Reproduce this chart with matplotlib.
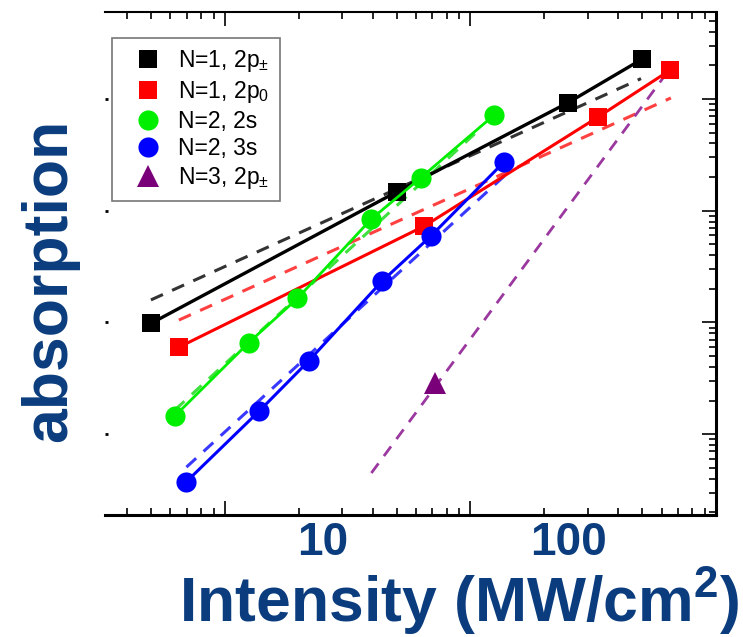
import matplotlib
matplotlib.use('Agg')
import matplotlib.pyplot as plt

plt.rcParams['font.family'] = ['Liberation Sans', 'DejaVu Sans']
plt.rcParams['mathtext.fontset'] = 'custom'
plt.rcParams['mathtext.rm'] = 'Liberation Sans'
plt.rcParams['mathtext.bf'] = 'Liberation Sans:bold'
plt.rcParams['mathtext.default'] = 'regular'

# measured absorption vs. intensity (MW/cm^2), arbitrary units
int_n1_2ppm = [2, 20, 100, 200]
abs_n1_2ppm = [0.0098, 0.147, 0.927, 2.27]
int_n1_2p0 = [2.6, 26, 132, 261]
abs_n1_2p0 = [0.0060, 0.073, 0.686, 1.82]
int_n2_2s = [2.5, 5.0, 7.9, 15.8, 25.1, 50]
abs_n2_2s = [0.00145, 0.00658, 0.0164, 0.0843, 0.197, 0.719]
int_n2_3s = [2.77, 5.52, 8.77, 17.5, 27.7, 55]
abs_n2_3s = [0.00037, 0.00161, 0.00451, 0.0235, 0.0597, 0.275]
int_n3_2ppm = [28.8]
abs_n3_2ppm = [0.00287]

# power-law fits (dashed)
fit_n1_2ppm_x = [2, 198]
fit_n1_2ppm_y = [0.0159, 1.52]
fit_n1_2p0_x = [2.6, 262]
fit_n1_2p0_y = [0.0105, 1.02]
fit_n2_2s_x = [2.5, 42]
fit_n2_2s_y = [0.00164, 0.496]
fit_n2_3s_x = [2.79, 57]
fit_n2_3s_y = [0.000507, 0.22]
fit_n3_2ppm_x = [15.8, 245]
fit_n3_2ppm_y = [0.000449, 1.57]

labels = ['N=1, 2p$_{\\pm}$', 'N=1, 2p$_0$', 'N=2, 2s', 'N=2, 3s', 'N=3, 2p$_{\\pm}$']

label_color = '#0b3d7e'

fig = plt.figure(figsize=(7.43, 6.37), dpi=100)
ax = fig.add_axes([0.1413, 0.1915, 0.8224, 0.7897])
ax.set_xscale('log')
ax.set_yscale('log')

dash = (4.3, 3.3)
ax.plot(fit_n1_2ppm_x, fit_n1_2ppm_y, color='#333333', lw=2.2, dashes=dash, zorder=2)
ax.plot(fit_n1_2p0_x, fit_n1_2p0_y, color='#ff4040', lw=2.2, dashes=dash, zorder=2)
ax.plot(fit_n2_2s_x, fit_n2_2s_y, color='#40e040', lw=2.2, dashes=dash, zorder=2)
ax.plot(fit_n2_3s_x, fit_n2_3s_y, color='#3838ff', lw=2.2, dashes=dash, zorder=2)
ax.plot(fit_n3_2ppm_x, fit_n3_2ppm_y, color='#9a38a0', lw=2.0, dashes=dash, zorder=2)

h1, = ax.plot(int_n1_2ppm, abs_n1_2ppm, '-s', color='black', lw=2.4, ms=12.5, mew=0, zorder=3)
h2, = ax.plot(int_n1_2p0, abs_n1_2p0, '-s', color='#ff0000', lw=2.2, ms=12.5, mew=0, zorder=3)
h3, = ax.plot(int_n2_2s, abs_n2_2s, '-o', color='#00ee00', lw=2.0, ms=14.5, mew=0, zorder=4)
h4, = ax.plot(int_n2_3s, abs_n2_3s, '-o', color='#0000ff', lw=2.2, ms=14.5, mew=0, zorder=4)
h5, = ax.plot(int_n3_2ppm, abs_n3_2ppm, '^', color='#7a007a', ms=16, mew=0, zorder=4)

ax.set_xlim(1.3, 400)
ax.set_ylim(1.89e-4, 6.0)

# x ticks: long marks every decade from 4, short ones in between
ax.set_xticks([4, 40, 400])
ax.set_xticks([d * k for d in (0.4, 4, 40) for k in range(2, 10) if d * k > 1.3], minor=True)
ax.set_xticklabels([])
ax.xaxis.set_minor_formatter(plt.NullFormatter())
ax.tick_params(axis='x', which='both', direction='in', top=True, bottom=True, width=1.2)
ax.tick_params(axis='x', which='major', length=10)
ax.tick_params(axis='x', which='minor', length=5)

ax.yaxis.set_major_locator(matplotlib.ticker.LogLocator(base=10, numticks=20))
ax.yaxis.set_minor_locator(matplotlib.ticker.LogLocator(base=10, subs=range(2, 10), numticks=20))
ax.yaxis.set_major_formatter(plt.NullFormatter())
ax.yaxis.set_minor_formatter(plt.NullFormatter())
ax.tick_params(axis='y', which='both', direction='in', left=False, right=True, width=1.2)
ax.tick_params(axis='y', which='major', length=10)
ax.tick_params(axis='y', which='minor', length=5)

ax.spines['left'].set_visible(False)
ax.spines['bottom'].set_linewidth(2.2)
ax.spines['right'].set_linewidth(2.2)
ax.spines['top'].set_linewidth(1.5)

# small left-hand decade marks without a spine
axl = fig.add_axes(ax.get_position(), frameon=False, sharey=ax)
axl.xaxis.set_visible(False)
axl.patch.set_visible(False)
axl.tick_params(axis='y', which='major', direction='in', length=2, width=2, left=True, right=False)
axl.tick_params(axis='y', which='minor', length=0)
axl.yaxis.set_major_formatter(plt.NullFormatter())

# decade labels
for xv, txt in [(10, '10'), (100, '100')]:
    ax.text(xv, -0.011, txt, transform=ax.get_xaxis_transform(), ha='center', va='top',
            fontsize=33, fontweight='bold', color=label_color)

fig.text(459 / 743, 1 - 601 / 637, 'Intensity (MW/cm$\\mathbf{^2}$)', ha='center', va='center',
         fontsize=45, fontweight='bold', color=label_color)
fig.text(50 / 743, 1 - 280 / 637, 'absorption', rotation=90, ha='center', va='center',
         fontsize=45, fontweight='bold', color=label_color)

leg = ax.legend([h1, h2, h3, h4, h5], labels, loc='upper left', bbox_to_anchor=(0.0115, 0.948),
                borderaxespad=0, fontsize=16.5, frameon=True, fancybox=False,
                handlelength=2.2, handletextpad=0.25, borderpad=0.45, labelspacing=0.2,
                numpoints=1)
leg.get_frame().set_edgecolor('#555555')
leg.get_frame().set_linewidth(1.2)
for line in leg.get_lines():
    line.set_linestyle('none')

fig.savefig('out.png', dpi=100)
